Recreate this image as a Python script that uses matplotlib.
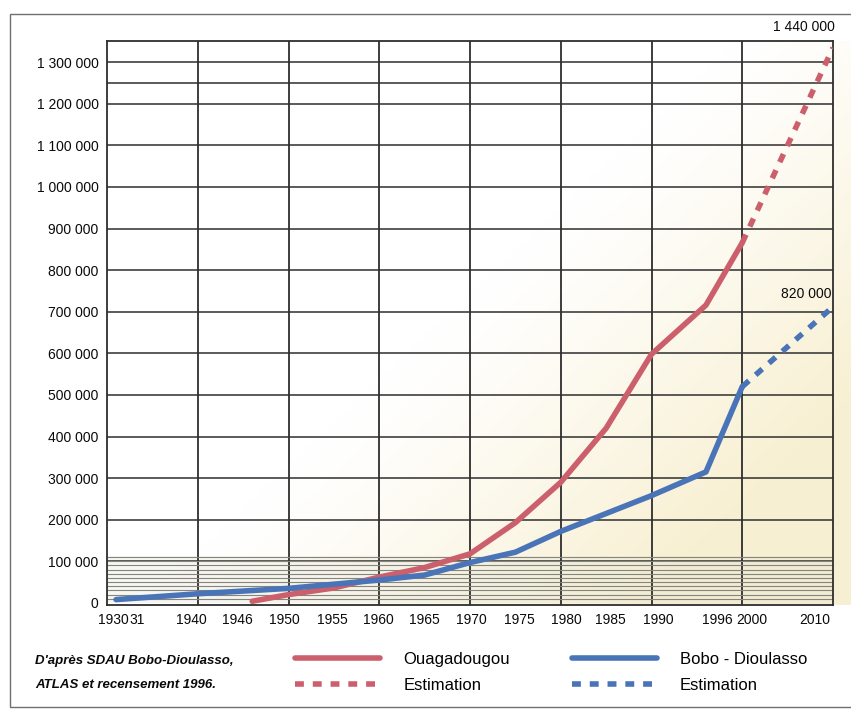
import numpy as np
import matplotlib
matplotlib.use('Agg')
import matplotlib.pyplot as plt
from matplotlib.patches import Rectangle
from matplotlib.transforms import blended_transform_factory

plt.rcParams['font.family'] = ['Liberation Sans', 'DejaVu Sans']

# =============================================================================
# Data
# =============================================================================
ouaga_years = [1946, 1950, 1955, 1960, 1965, 1970, 1975, 1980, 1985, 1990, 1996, 2000]
ouaga_pop = [4000, 20000, 36000, 62000, 85000, 118000, 193000, 290000, 420000, 598000, 716000, 866000]
ouaga_est_years = [2000, 2010]
ouaga_est_pop = [866000, 1335000]

bobo_years = [1931, 1940, 1950, 1960, 1965, 1970, 1975, 1980, 1985, 1990, 1996, 2000]
bobo_pop = [8000, 22000, 35000, 55000, 67000, 97000, 122000, 172000, 215000, 258000, 315000, 520000]
bobo_est_years = [2000, 2010]
bobo_est_pop = [520000, 712000]

y_ticks = [0, 100000, 200000, 300000, 400000, 500000, 600000, 700000,
           800000, 900000, 1000000, 1100000, 1200000, 1300000]
y_labels = ['0', '100 000', '200 000', '300 000', '400 000', '500 000', '600 000',
            '700 000', '800 000', '900 000', '1 000 000', '1 100 000', '1 200 000', '1 300 000']
x_labels = ['1930', '31', '1940', '1946', '1950', '1955', '1960', '1965', '1970',
            '1975', '1980', '1985', '1990', '1996', '2000', '2010']
# where the labels sit under the axis (they are placed by hand in the original)
x_label_pos = [1930.7, 1933.3, 1939.3, 1944.4, 1949.5, 1954.8, 1959.9, 1965.0, 1970.1,
               1975.4, 1980.6, 1985.5, 1990.8, 1997.2, 2001.0, 2008.0]
ann_ouaga = '1 440 000'
ann_bobo = '820 000'

RED = '#cc5f6c'
BLUE = '#4a74b8'
GRID = '#2e2e2e'
TXT = '#0a0a0a'

fig = plt.figure(figsize=(8.51, 7.13), dpi=100)
W, H = 851, 713

# outer frame of the scanned page
fig.add_artist(Rectangle((10 / W, 6 / H), 1.2, 693 / H, transform=fig.transFigure,
                         fill=False, edgecolor='#707070', lw=1.0))

ax_left, ax_bottom = 107 / W, 1 - 605 / H
ax_w, ax_h = 726 / W, 564 / H

# paper tint behind the grid
bg = fig.add_axes([ax_left, ax_bottom, 1 - ax_left, ax_h], zorder=0)
u, v = np.meshgrid(np.linspace(0, 1, 200), np.linspace(0, 1, 200))
t = np.clip(1.5 * (u - 0.45) + 1.2 * (0.5 - v), 0, 1) ** 1.2
c0 = np.array([1.0, 1.0, 1.0])
c1 = np.array([0.972, 0.94, 0.82])
img = c0 + t[..., None] * (c1 - c0)
bg.imshow(img, origin='lower', aspect='auto', extent=(0, 1, 0, 1))
bg.axis('off')

ax = fig.add_axes([ax_left, ax_bottom, ax_w, ax_h], zorder=1)
ax.patch.set_alpha(0)
ax.set_xlim(1930, 2010)
ax.set_ylim(-5000, 1351000)

# grid
for yr in range(1940, 2010, 10):
    ax.axvline(yr, color=GRID, lw=1.3, zorder=1)
for yv in y_ticks[1:] + [1250000]:
    ax.axhline(yv, color=GRID, lw=1.1, zorder=1)
for yv in range(10000, 120000, 10000):
    ax.axhline(yv, color='#85857a', lw=0.8, zorder=1)
ax.axhspan(0, 112000, color='#e8e6dc', alpha=0.35, zorder=0.5, lw=0)

ax.plot(ouaga_years, ouaga_pop, color=RED, lw=4, solid_capstyle='round',
        solid_joinstyle='round', label='Ouagadougou', zorder=3)
ax.plot(ouaga_est_years, ouaga_est_pop, color=RED, lw=4, dashes=(1.6, 1.6),
        label='Estimation', zorder=3)
ax.plot(bobo_years, bobo_pop, color=BLUE, lw=4, solid_capstyle='round',
        solid_joinstyle='round', label='Bobo - Dioulasso', zorder=3)
ax.plot(bobo_est_years, bobo_est_pop, color=BLUE, lw=4, dashes=(1.6, 1.6),
        label='Estimation', zorder=3)

for s in ax.spines.values():
    s.set_color(GRID)
    s.set_linewidth(1.3)

ax.set_yticks(y_ticks, y_labels)
ax.set_xticks(x_label_pos, x_labels)
ax.tick_params(axis='both', length=0, labelsize=10, colors=TXT)
ax.tick_params(axis='y', pad=6)
ax.tick_params(axis='x', pad=6)

trans = blended_transform_factory(ax.transData, ax.transAxes)
ax.text(2010.2, 1.012, ann_ouaga, transform=trans, ha='right', va='bottom',
        fontsize=10, color=TXT)
ax.annotate(ann_bobo, xy=(2010, bobo_est_pop[-1]), xytext=(-1, 4),
            textcoords='offset points', ha='right', va='bottom', fontsize=10, color=TXT)

fig.text(35 / W, 1 - 661 / H, "D'après SDAU Bobo-Dioulasso,", fontsize=9.5, style='italic',
         weight='bold', va='center', ha='left', color=TXT)
fig.text(35 / W, 1 - 685 / H, "ATLAS et recensement 1996.", fontsize=9.5, style='italic',
         weight='bold', va='center', ha='left', color=TXT)

leg = fig.legend(loc='upper left', bbox_to_anchor=(295 / W, 1 - 652 / H), ncol=2,
                 frameon=False, fontsize=12, handlelength=5.1, handletextpad=1.4,
                 columnspacing=3.7, labelspacing=0.65, borderpad=0, borderaxespad=0)

fig.savefig('out.png', dpi=100)
